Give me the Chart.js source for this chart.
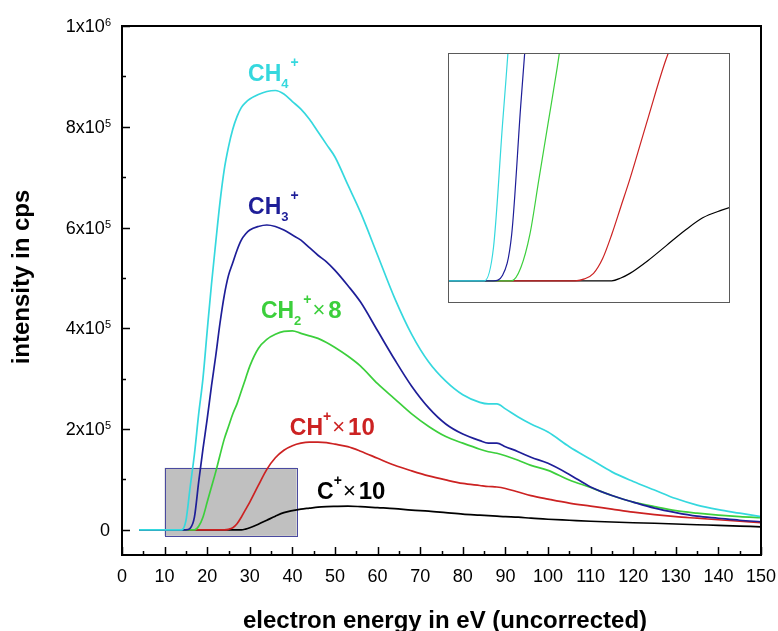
<!DOCTYPE html>
<html>
<head>
<meta charset="utf-8">
<script src="https://cdn.jsdelivr.net/npm/chart.js@4.4.0/dist/chart.umd.min.js"></script>
<style>
  body { margin: 0; background: #fff; }
  #wrap { position: relative; width: 778px; height: 631px; }
  #inset { position: absolute; left: 448px; top: 53px; width: 282px; height: 250px; background: #fff; }
</style>
</head>
<body>
<div id="wrap">
  <canvas id="mainChart" width="778" height="631"></canvas>
  <div id="inset"><canvas id="insetChart" width="282" height="250"></canvas></div>
</div>
<script>
// electron energy grid (eV)
const energyEv = [
  4, 10, 14, 15, 16, 17, 18, 19, 20,
  21, 22, 23, 24, 25, 26, 27, 28, 29, 30,
  32, 34, 36, 38, 40, 42, 44, 46, 48, 50,
  53, 56, 60, 64, 68, 72, 76, 80, 84,
  86, 88, 90, 93, 96, 100, 105, 110,
  115, 120, 125, 130, 135, 140, 145, 150
];

// ion counts (cps), scaled as labelled
const ch4 = [
  0, 0, 0, 18000, 85000, 150000, 230000, 300000, 395000,
  487000, 570000, 650000, 715000, 760000, 795000, 820000, 838000, 848000, 855000,
  864000, 870000, 872000, 865000, 850000, 835000, 815000, 790000, 765000, 740000,
  685000, 630000, 545000, 460000, 388000, 333000, 295000, 268000, 253000,
  250000, 250000, 240000, 224000, 210000, 194000, 165000, 140000,
  115000, 96000, 79000, 62000, 49000, 40000, 33000, 26000
];
const ch3 = [
  0, 0, 0, 0, 3000, 25000, 95000, 160000, 220000,
  285000, 345000, 410000, 465000, 505000, 530000, 555000, 575000, 587000, 595000,
  602000, 605000, 602000, 595000, 585000, 575000, 560000, 545000, 532000, 515000,
  485000, 452000, 395000, 338000, 285000, 242000, 210000, 190000, 177000,
  172000, 172000, 165000, 155000, 144000, 132000, 110000, 85000,
  68000, 55000, 43000, 34000, 27000, 23000, 19000, 16000
];
const ch2x8 = [
  0, 0, 0, 0, 0, 0, 7000, 25000, 55000,
  85000, 115000, 148000, 180000, 205000, 230000, 250000, 275000, 300000, 325000,
  360000, 378000, 388000, 394000, 395000, 390000, 385000, 380000, 372000, 362000,
  345000, 325000, 290000, 260000, 230000, 205000, 185000, 172000, 160000,
  155000, 152000, 147000, 138000, 128000, 118000, 99000, 84000,
  68000, 55000, 46000, 38000, 33000, 29000, 26000, 24000
];
const chx10 = [
  0, 0, 0, 0, 0, 0, 0, 0, 0,
  0, 0, 0, 0, 1000, 4000, 12000, 25000, 40000, 55000,
  88000, 120000, 143000, 158000, 167000, 172000, 174000, 174000, 173000, 170000,
  165000, 156000, 142000, 128000, 117000, 107000, 99000, 92000, 88000,
  86000, 85000, 82000, 75000, 68000, 61000, 53000, 47000,
  41000, 35000, 30000, 26000, 23000, 20000, 17000, 14000
];
const cx10 = [
  0, 0, 0, 0, 0, 0, 0, 0, 0,
  0, 0, 0, 0, 0, 0, 0, 0, 1500, 4000,
  11000, 19000, 27000, 34000, 38000, 41000, 43000, 45000, 46000, 46500,
  47000, 46000, 44000, 42000, 39000, 37000, 34000, 31000, 29000,
  28000, 27000, 26000, 25000, 23000, 21000, 19000, 17000,
  15500, 14000, 13000, 11500, 10000, 9000, 7500, 6000
];

const xTicks = [0, 10, 20, 30, 40, 50, 60, 70, 80, 90, 100, 110, 120, 130, 140, 150];
const yTicks = [0, 200000, 400000, 600000, 800000, 1000000];

const FONT = '"Liberation Sans", Arial, sans-serif';
const CYAN = "#35d8de";
const NAVY = "#1e1e98";
const GREEN = "#3ccf3c";
const RED = "#cc2222";
const BLACK = "#000000";

// zoomed window shown in the inset
const zoomBox = { xMin: 10, xMax: 41, yMin: -12000, yMax: 123000 };

const seriesLabels = [
  { at: [29.6, 891000], color: CYAN, parts: [["CH", "main"], ["4", "sub"], ["+", "sup"]] },
  { at: [29.6, 627000], color: NAVY, parts: [["CH", "main"], ["3", "sub"], ["+", "sup"]] },
  { at: [32.6, 421000], color: GREEN, parts: [["CH", "main"], ["2", "sub"], ["+", "sup"], ["\u00d7", "times"], ["8", "num"]] },
  { at: [39.4, 188000], color: RED, parts: [["CH", "main"], ["+", "supTight"], ["\u00d7", "times"], ["10", "num"]] },
  { at: [45.8, 61000], color: BLACK, parts: [["C", "main"], ["+", "supTight"], ["\u00d7", "times"], ["10", "num"]] }
];

const partStyle = {
  main: { font: "bold 23px " + FONT, dy: 0, gap: 0 },
  sub: { font: "bold 13px " + FONT, dy: 7, gap: 0 },
  sup: { font: "bold 14px " + FONT, dy: -14, gap: 2 },
  supTight: { font: "bold 14px " + FONT, dy: -14, gap: 0 },
  times: { font: "22px " + FONT, dy: -1, gap: 1 },
  num: { font: "bold 24px " + FONT, dy: 0, gap: 3 }
};

function toPoints(values) {
  return values.map((v, i) => ({ x: energyEv[i], y: v }));
}

function buildDatasets(width) {
  const series = [
    { data: ch4, color: CYAN },
    { data: ch3, color: NAVY },
    { data: ch2x8, color: GREEN },
    { data: chx10, color: RED },
    { data: cx10, color: BLACK }
  ];
  return series.map((s) => ({
    data: toPoints(s.data),
    borderColor: s.color,
    borderWidth: width,
    pointRadius: 0,
    fill: false,
    cubicInterpolationMode: "monotone"
  }));
}

function drawLabel(ctx, x, y, color, parts) {
  ctx.fillStyle = color;
  ctx.textAlign = "left";
  ctx.textBaseline = "alphabetic";
  let cx = x;
  parts.forEach(([text, kind]) => {
    const st = partStyle[kind];
    ctx.font = st.font;
    cx += st.gap;
    ctx.fillText(text, cx, y + st.dy);
    cx += ctx.measureText(text).width;
  });
}

function drawYTickLabel(ctx, value, right, y) {
  ctx.fillStyle = "#000";
  ctx.textBaseline = "alphabetic";
  if (value === 0) {
    ctx.font = "18px " + FONT;
    ctx.textAlign = "right";
    ctx.fillText("0", right - 1, y + 6);
    return;
  }
  const exp = Math.floor(Math.log10(value));
  const mant = Math.round(value / Math.pow(10, exp));
  ctx.font = "11px " + FONT;
  const supW = ctx.measureText(String(exp)).width;
  ctx.textAlign = "left";
  ctx.fillText(String(exp), right - supW, y);
  ctx.font = "18px " + FONT;
  ctx.textAlign = "right";
  ctx.fillText(mant + "x10", right - supW, y + 6);
}

const mainDecor = {
  id: "mainDecor",
  beforeDatasetsDraw(chart) {
    const { ctx, scales: { x, y } } = chart;
    const l = x.getPixelForValue(zoomBox.xMin);
    const r = x.getPixelForValue(zoomBox.xMax);
    const t = y.getPixelForValue(zoomBox.yMax);
    const b = y.getPixelForValue(zoomBox.yMin);
    ctx.save();
    ctx.fillStyle = "#c0c0c0";
    ctx.fillRect(l, t, r - l, b - t);
    ctx.strokeStyle = "#4a4aa0";
    ctx.lineWidth = 1;
    ctx.strokeRect(Math.round(l) + 0.5, Math.round(t) + 0.5, Math.round(r - l), Math.round(b - t));
    ctx.restore();
  },
  afterDatasetsDraw(chart) {
    const { ctx, chartArea: a, scales: { x, y } } = chart;
    ctx.save();

    // frame
    ctx.strokeStyle = "#000";
    ctx.lineWidth = 2;
    ctx.strokeRect(a.left, a.top, a.right - a.left, a.bottom - a.top);

    // inward ticks, x: major every 10, minor every 5
    ctx.lineWidth = 1.5;
    ctx.beginPath();
    for (let v = 0; v <= 150; v += 5) {
      const px = Math.round(x.getPixelForValue(v)) + 0.5;
      const len = v % 10 === 0 ? 8 : 4;
      ctx.moveTo(px, a.bottom);
      ctx.lineTo(px, a.bottom - len);
    }
    // inward ticks, y: major every 2e5, minor every 1e5
    for (let v = 0; v <= 1000000; v += 100000) {
      const py = Math.round(y.getPixelForValue(v)) + 0.5;
      const len = v % 200000 === 0 ? 8 : 4;
      ctx.moveTo(a.left, py);
      ctx.lineTo(a.left + len, py);
    }
    ctx.stroke();

    // tick labels
    ctx.fillStyle = "#000";
    ctx.font = "18px " + FONT;
    ctx.textAlign = "center";
    ctx.textBaseline = "alphabetic";
    xTicks.forEach((v) => {
      ctx.fillText(String(v), x.getPixelForValue(v), a.bottom + 27);
    });
    yTicks.forEach((v) => {
      drawYTickLabel(ctx, v, a.left - 11, y.getPixelForValue(v));
    });

    // axis titles
    ctx.font = "bold 24px " + FONT;
    ctx.textAlign = "center";
    ctx.fillText("electron energy in eV (uncorrected)", 445, 628);
    ctx.save();
    ctx.translate(29, 277);
    ctx.rotate(-Math.PI / 2);
    ctx.fillText("intensity in cps", 0, 0);
    ctx.restore();

    // series labels
    seriesLabels.forEach((lab) => {
      drawLabel(ctx, x.getPixelForValue(lab.at[0]), y.getPixelForValue(lab.at[1]), lab.color, lab.parts);
    });

    ctx.restore();
  }
};

const insetFrame = {
  id: "insetFrame",
  afterDatasetsDraw(chart) {
    const { ctx, width, height } = chart;
    ctx.save();
    ctx.strokeStyle = "#5a5a5a";
    ctx.lineWidth = 1;
    ctx.strokeRect(0.5, 0.5, width - 1, height - 1);
    ctx.restore();
  }
};

new Chart(document.getElementById("mainChart"), {
  type: "line",
  data: { datasets: buildDatasets(1.7) },
  options: {
    responsive: false,
    animation: false,
    layout: { padding: { left: 122, right: 17, top: 26, bottom: 76 } },
    scales: {
      x: { type: "linear", min: 0, max: 150, display: false },
      y: { type: "linear", min: -50000, max: 1000000, display: false }
    },
    plugins: { legend: { display: false }, tooltip: { enabled: false } }
  },
  plugins: [mainDecor]
});

new Chart(document.getElementById("insetChart"), {
  type: "line",
  data: { datasets: buildDatasets(1.2) },
  options: {
    responsive: false,
    animation: false,
    layout: { padding: 0 },
    scales: {
      x: { type: "linear", min: zoomBox.xMin, max: zoomBox.xMax, display: false },
      y: { type: "linear", min: zoomBox.yMin, max: zoomBox.yMax, display: false }
    },
    plugins: { legend: { display: false }, tooltip: { enabled: false } }
  },
  plugins: [insetFrame]
});
</script>
</body>
</html>
